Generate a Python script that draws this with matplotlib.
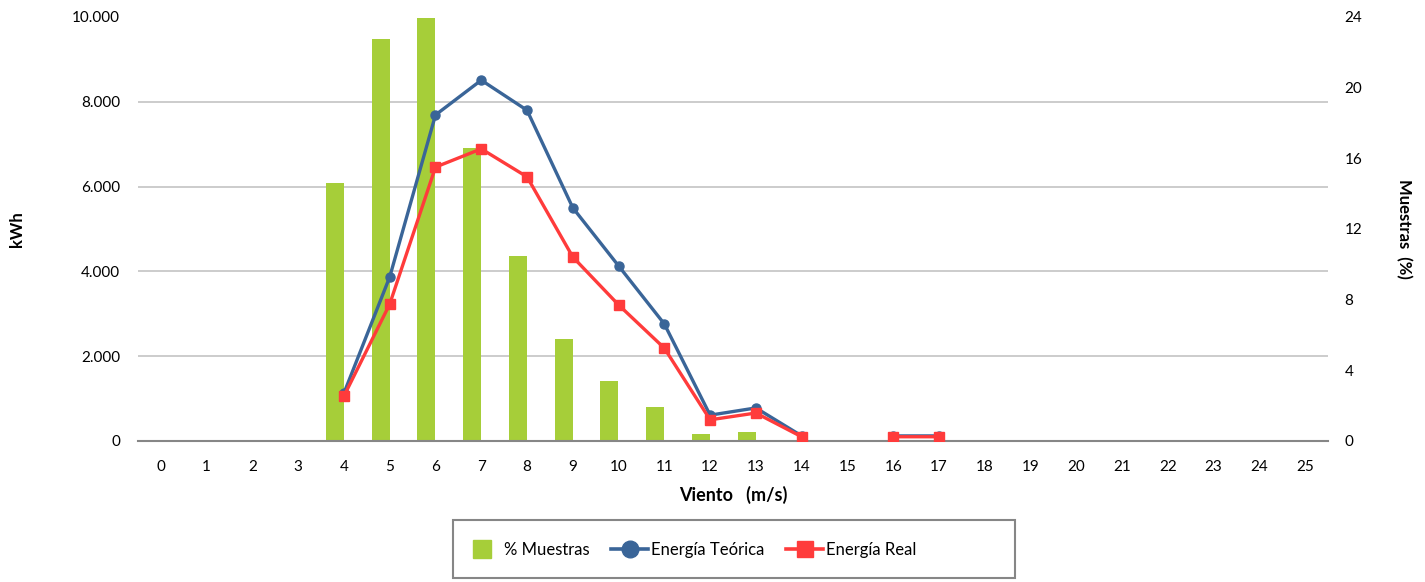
import numpy as np
import matplotlib
matplotlib.use("Agg")
import matplotlib.pyplot as plt
from matplotlib.lines import Line2D
from matplotlib.patches import Rectangle
from matplotlib.ticker import FuncFormatter

plt.rcParams['font.family'] = ['Lato', 'DejaVu Sans']

viento = list(range(26))
muestras_pct = [0, 0, 0, 0, 14.6, 22.75, 23.95, 16.6, 10.5, 5.8, 3.4, 1.9, 0.4, 0.5,
                0, 0, 0, 0, 0, 0, 0, 0, 0, 0, 0, 0]
nan = np.nan
energia_teorica = [nan, nan, nan, nan, 1130, 3870, 7690, 8510, 7800, 5500, 4130, 2760,
                   610, 780, 120, nan, 120, 120, nan, nan, nan, nan, nan, nan, nan, nan]
energia_real = [nan, nan, nan, nan, 1060, 3230, 6460, 6890, 6230, 4340, 3210, 2190,
                500, 660, 100, nan, 100, 100, nan, nan, nan, nan, nan, nan, nan, nan]
kwh_ticks = [0, 2000, 4000, 6000, 8000, 10000]
pct_ticks = [0, 4, 8, 12, 16, 20, 24]

GREEN = '#A6CE39'
BLUE = '#3A6598'
RED = '#FF3B3B'

W, H = 1425, 582
fig = plt.figure(figsize=(W / 100, H / 100), dpi=100)
ax2 = fig.add_axes([138/W, 1 - 441/H, (1328-138)/W, (441-17)/H])
ax = ax2.twinx()
ax.set_zorder(ax2.get_zorder() + 1)
ax.patch.set_visible(False)

x = np.array(viento)
# bars (right axis)
ax2.bar(x - 0.2, muestras_pct, width=0.39, color=GREEN, zorder=2)
ax2.set_ylim(0, 24)
ax2.set_yticks(pct_ticks)
# gridlines follow the left (kWh) axis ticks
ax2.set_yticks([t / kwh_ticks[-1] * 24 for t in kwh_ticks], minor=True)
ax2.yaxis.tick_right()
ax2.yaxis.set_label_position('right')
ax2.grid(axis='y', which='minor', color='#C8C8C8', linewidth=1.3, zorder=0)
ax2.grid(axis='y', which='major', visible=False)
ax2.set_axisbelow(True)
ax2.set_xlim(-0.5, 25.5)
ax2.set_xticks(x)
ax2.set_xticklabels([str(v) for v in viento])
ax2.tick_params(axis='x', length=0, pad=14, labelsize=11)
ax2.tick_params(axis='y', which='both', length=0, pad=12, labelsize=11)
for s in ['top', 'left', 'right']:
    ax2.spines[s].set_visible(False)
ax2.spines['bottom'].set_color('#868686')
ax2.spines['bottom'].set_linewidth(1.5)
ax2.set_ylabel('Muestras  (%)', fontsize=12, fontweight='bold', rotation=-90,
               labelpad=36)
ax2.set_xlabel('Viento   (m/s)', fontsize=13, fontweight='bold', labelpad=8)

# lines (left axis)
ax.plot(x, energia_teorica, color=BLUE, linewidth=2.4, marker='o', markersize=6.5,
        zorder=3)
ax.plot(x, energia_real, color=RED, linewidth=2.4, marker='s', markersize=6.5,
        zorder=4)
ax.set_ylim(0, 10000)
ax.set_yticks(kwh_ticks)
ax.yaxis.set_major_formatter(FuncFormatter(lambda v, p: f"{int(v):,}".replace(',', '.')))
ax.yaxis.tick_left()
ax.yaxis.set_label_position('left')
ax.tick_params(axis='y', length=0, pad=13, labelsize=11)
for s in ['top', 'left', 'right', 'bottom']:
    ax.spines[s].set_visible(False)
ax.set_ylabel('kWh', fontsize=12, fontweight='bold', labelpad=34)
ax.set_xlim(-0.5, 25.5)

# legend box (Excel style: content left-aligned in a wider frame)
fig.patches.append(Rectangle((453/W, 1 - 578/H), (1015-453)/W, (578-520)/H,
                             transform=fig.transFigure, fill=False,
                             edgecolor='#868686', linewidth=1.5))
handles = [
    Line2D([], [], color=GREEN, linestyle='none', marker='s', markersize=13),
    Line2D([], [], color=BLUE, linewidth=2.6, marker='o', markersize=12),
    Line2D([], [], color=RED, linewidth=2.6, marker='s', markersize=12),
]
labels = ['% Muestras', 'Energía Teórica', 'Energía Real']
leg = fig.legend(handles, labels, loc='center left', ncol=3,
                 bbox_to_anchor=(464/W, 1 - 550/H), frameon=False,
                 fontsize=12, handlelength=2.2, handletextpad=0.2,
                 columnspacing=1.3, borderpad=0, borderaxespad=0)

fig.savefig('out.png', dpi=100)
